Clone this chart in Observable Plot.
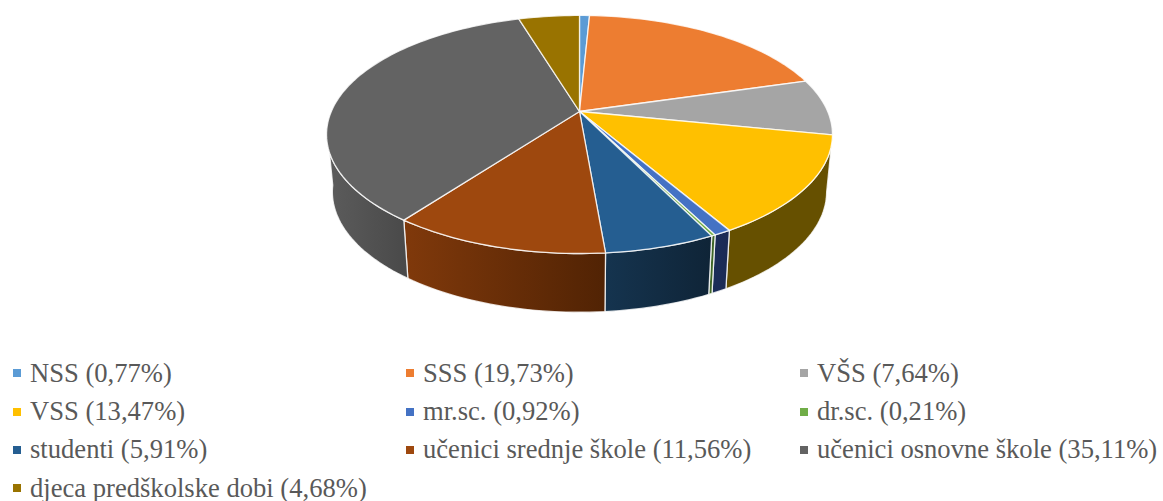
<!DOCTYPE html>
<html>
<head>
<meta charset="utf-8">
<script src="https://cdn.jsdelivr.net/npm/d3@7"></script>
<script src="https://cdn.jsdelivr.net/npm/@observablehq/plot@0.6"></script>
<style>
html,body{margin:0;padding:0;background:#fff;overflow:hidden}
#chart svg{display:block;background:#fff}
#legend{position:absolute;left:13px;top:354px;display:grid;grid-template-columns:393px 394px 360px;grid-auto-rows:38.4px;
 font-family:"Liberation Serif",serif;font-size:26.6px;color:#595959;white-space:nowrap}
#legend div{display:flex;align-items:center}
#legend i{display:inline-block;width:8px;height:8px;margin-right:9px}
</style>
</head>
<body>
<div id="chart"></div>
<div id="legend"></div>
<script>
const categories = ["NSS","SSS","VŠS","VSS","mr.sc.","dr.sc.","studenti","učenici srednje škole","učenici osnovne škole","djeca predškolske dobi"];
const shares = [0.77,19.73,7.64,13.47,0.92,0.21,5.91,11.56,35.11,4.68];
const topColors = ["#5B9BD5","#ED7D31","#A5A5A5","#FFC000","#4472C4","#70AD47","#255E91","#9E480E","#636363","#997300"];
const wallFrom = ["#37658f","#8e4b1d","#636363","#665000","#1b2d59","#3f6628","#15344f","#80390b","#5c5c5c","#5c4500"];
const wallTo   = ["#37658f","#8e4b1d","#636363","#665000","#1b2a54","#3f6628","#0f2437","#512304","#494949","#5c4500"];

// perspective view of the disc
const cx = 579, tilt = 0.193;
const upper = {y0:111, rx:248.2, ry:114.6};
const lower = {y0:168, rx:242.5, ry:116};
const wallRange = [100, 262];

const project = (deg, p) => {
  const t = deg*Math.PI/180, X = Math.sin(t), Y = Math.cos(t), w = 1 + tilt*Y;
  return {x: cx + p.rx*X/w, y: p.y0 - p.ry*Y/w};
};
const angles = [];
shares.reduce((sum,v,i)=>{angles[i]=[sum*3.6,(sum+v)*3.6];return sum+v;},0);

const arc = (a,b,p) => {
  const n = Math.max(2,Math.ceil((b-a)/1.5)), out=[];
  for(let k=0;k<=n;k++) out.push(project(a+(b-a)*k/n,p));
  return out;
};
const topShape = i => [{x:cx,y:upper.y0},...arc(angles[i][0],angles[i][1],upper)];
const wallShape = i => {
  const a=Math.max(angles[i][0],wallRange[0]), b=Math.min(angles[i][1],wallRange[1]);
  if(b<=a) return null;
  return [...arc(a,b,upper),...arc(a,b,lower).reverse()];
};

const defs = () => {
  const s = d3.create("svg:defs");
  categories.forEach((c,i)=>{
    const g=s.append("linearGradient").attr("id","wall"+i);
    g.append("stop").attr("offset","0").attr("stop-color",wallFrom[i]);
    g.append("stop").attr("offset","1").attr("stop-color",wallTo[i]);
  });
  return s.node();
};

const edge = {x:"x",y:"y",curve:"linear-closed",stroke:"#fff",strokeOpacity:0.8,strokeWidth:1.3,strokeLinejoin:"round"};
const marks = [defs];
categories.forEach((c,i)=>{
  const w=wallShape(i);
  if(w) marks.push(Plot.line(w,{...edge,fill:`url(#wall${i})`}));
});
categories.forEach((c,i)=>{
  marks.push(Plot.line(topShape(i),{...edge,fill:topColors[i]}));
});

const chart = Plot.plot({
  width:1163,height:340,margin:0,
  x:{domain:[0,1163],range:[0,1163],axis:null},
  y:{domain:[0,340],range:[0,340],axis:null},
  marks
});
document.getElementById("chart").append(chart);

const legend=document.getElementById("legend");
categories.forEach((c,i)=>{
  const d=document.createElement("div");
  const m=document.createElement("i");m.style.background=topColors[i];
  d.append(m,document.createTextNode(`${c} (${shares[i].toFixed(2).replace(".",",")}%)`));
  legend.append(d);
});
</script>
</body>
</html>
